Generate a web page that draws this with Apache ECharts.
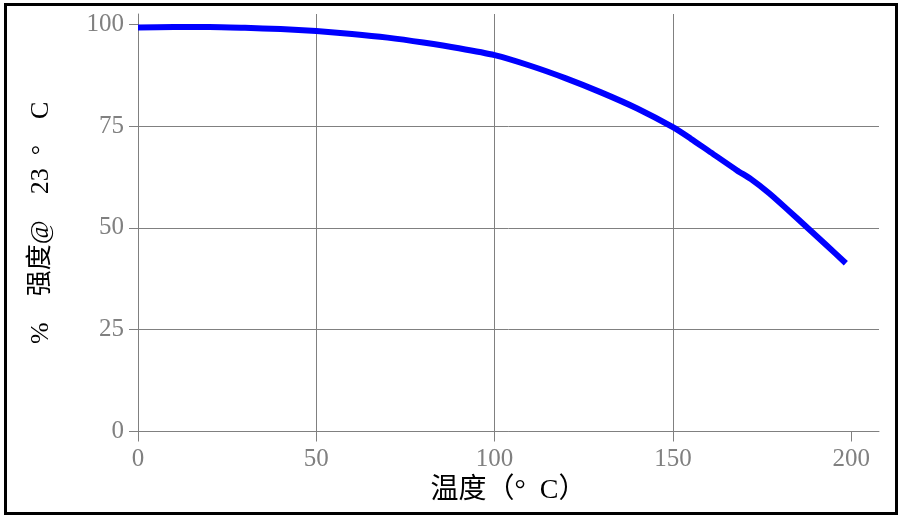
<!DOCTYPE html>
<html>
<head>
<meta charset="utf-8">
<script src="https://cdn.jsdelivr.net/npm/echarts@6/dist/echarts.min.js"></script>
<style>
  html, body { margin: 0; padding: 0; background: #fff; }
  #chart { position: absolute; left: 0; top: 0; width: 914px; height: 529px; }
  #frame {
    position: absolute; left: 4px; top: 3px; width: 894px; height: 512px;
    border: 3px solid #000; box-sizing: border-box; pointer-events: none;
  }
</style>
</head>
<body>
<div id="chart"></div>
<div id="frame"></div>
<script>
// 温度 (°C) vs 强度保持率 (% of 23°C)
const temps = [0, 10, 20, 30, 40, 50, 60, 70, 80, 90, 100, 110, 120, 130, 140, 150, 155, 160, 168, 172, 177, 182, 187.5, 193, 198.5];
const strength = [99.2, 99.3, 99.3, 99.1, 98.8, 98.3, 97.6, 96.7, 95.5, 94.1, 92.4, 89.8, 86.7, 83.2, 79.3, 74.7, 71.9, 68.9, 64.1, 61.9, 58.5, 54.6, 50.2, 45.8, 41.3];
const xTicks = [0, 50, 100, 150, 200];
const yTicks = [0, 25, 50, 75, 100];

const xName = '温度（°\u2002C）';
const yName = '%\u3000强度@\u300023\u2002°\u3000C';

const gridGrey = '#808080';
const labelFont = "'Liberation Serif', 'Times New Roman', serif";
const nameFont = "'Liberation Serif', 'Noto Sans CJK SC', serif";

const chart = echarts.init(document.getElementById('chart'));

chart.setOption({
  animation: false,
  backgroundColor: 'transparent',
  grid: { left: 138, right: 35, top: 14, bottom: 97.5 },
  xAxis: {
    type: 'value',
    min: 0,
    max: 207.8,
    interval: 50,
    name: xName,
    nameLocation: 'middle',
    nameGap: 42,
    nameTextStyle: { fontFamily: nameFont, fontSize: 28, color: '#000' },
    axisLine: { show: true, onZero: false, lineStyle: { color: gridGrey, width: 1 } },
    axisTick: { show: true, length: 10, customValues: xTicks, lineStyle: { color: gridGrey } },
    axisLabel: { customValues: xTicks, margin: 15, fontFamily: labelFont, fontSize: 25, color: gridGrey },
    splitLine: {
      show: true,
      showMaxLine: false,
      lineStyle: { color: [gridGrey, gridGrey, gridGrey, gridGrey, gridGrey, 'transparent'], width: 1 }
    }
  },
  yAxis: {
    type: 'value',
    min: 0,
    max: 102.5,
    interval: 25,
    name: yName,
    nameLocation: 'middle',
    nameGap: 84,
    nameTextStyle: { fontFamily: nameFont, fontSize: 26, color: '#000' },
    axisLine: { show: true, lineStyle: { color: gridGrey, width: 1 } },
    axisTick: { show: true, length: 9, customValues: yTicks, lineStyle: { color: gridGrey } },
    axisLabel: { customValues: yTicks, margin: 14, fontFamily: labelFont, fontSize: 25, color: gridGrey },
    splitLine: {
      show: true,
      showMaxLine: false,
      lineStyle: { color: [gridGrey, gridGrey, gridGrey, gridGrey, gridGrey, 'transparent'], width: 1 }
    }
  },
  series: [{
    type: 'line',
    data: temps.map((t, i) => [t, strength[i]]),
    showSymbol: false,
    smooth: 0.25,
    lineStyle: { color: '#0000ff', width: 6, cap: 'butt', join: 'round' },
    z: 3
  }]
});

window.addEventListener('resize', () => chart.resize());
</script>
</body>
</html>
